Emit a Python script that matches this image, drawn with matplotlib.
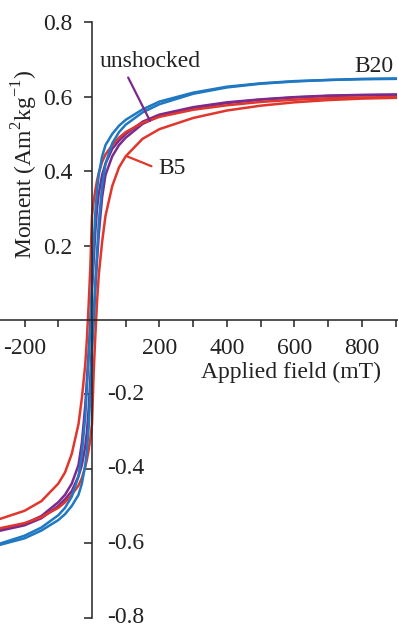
import matplotlib
matplotlib.use("Agg")
import matplotlib.pyplot as plt

plt.rcParams['font.family'] = ['Liberation Serif', 'DejaVu Serif']
plt.rcParams['mathtext.fontset'] = 'custom'
plt.rcParams['mathtext.rm'] = 'Liberation Serif'
plt.rcParams['font.size'] = 17

# applied field (mT)
field = [-300, -200, -150, -100, -80, -60, -40, -30, -20, -15, -10, -5, 0, 5, 10, 15, 20,
         30, 40, 60, 80, 100, 150, 200, 300, 400, 500, 600, 700, 800, 900]

# moment (Am2/kg) - descending and ascending branch of each loop
b20_down = [-0.609, -0.58, -0.558, -0.525, -0.505, -0.475, -0.42, -0.36, -0.26, -0.18, -0.10, -0.02,
            0.10, 0.20, 0.29, 0.35, 0.39, 0.44, 0.47, 0.50, 0.522, 0.538, 0.566, 0.587,
            0.611, 0.627, 0.636, 0.642, 0.645, 0.648, 0.649]
b20_up = [-0.611, -0.587, -0.566, -0.538, -0.522, -0.50, -0.47, -0.44, -0.39, -0.35, -0.29, -0.20,
          -0.08, 0.0, 0.10, 0.18, 0.26, 0.36, 0.42, 0.475, 0.505, 0.525, 0.558, 0.58,
          0.608, 0.625, 0.635, 0.641, 0.645, 0.647, 0.648]

unsh_down = [-0.57, -0.548, -0.527, -0.49, -0.47, -0.44, -0.39, -0.33, -0.23, -0.16, -0.09, -0.01,
             0.08, 0.16, 0.24, 0.30, 0.34, 0.39, 0.42, 0.46, 0.482, 0.50, 0.533, 0.552,
             0.572, 0.585, 0.593, 0.599, 0.603, 0.605, 0.606]
unsh_up = [-0.572, -0.552, -0.533, -0.50, -0.482, -0.46, -0.42, -0.39, -0.34, -0.30, -0.24, -0.16,
           -0.06, 0.0, 0.09, 0.16, 0.23, 0.33, 0.39, 0.44, 0.47, 0.49, 0.527, 0.548,
           0.57, 0.583, 0.592, 0.598, 0.602, 0.604, 0.605]

b5_down = [-0.543, -0.513, -0.487, -0.44, -0.41, -0.36, -0.28, -0.21, -0.12, -0.05, 0.04, 0.14,
           0.28, 0.32, 0.35, 0.375, 0.395, 0.425, 0.445, 0.47, 0.49, 0.505, 0.53, 0.546,
           0.565, 0.577, 0.586, 0.592, 0.596, 0.598, 0.599]
b5_up = [-0.565, -0.546, -0.53, -0.505, -0.49, -0.47, -0.445, -0.425, -0.395, -0.375, -0.35, -0.32,
         -0.28, -0.14, -0.04, 0.05, 0.12, 0.21, 0.28, 0.36, 0.41, 0.44, 0.487, 0.513,
         0.543, 0.563, 0.576, 0.585, 0.591, 0.595, 0.597]

xticks = [-200, -100, 100, 200, 300, 400, 500, 600, 700, 800, 900]
xticklabels = ['-200', '', '', '200', '', '400', '', '600', '', '800', '']
yticks = [-0.8, -0.6, -0.4, -0.2, 0.2, 0.4, 0.6, 0.8]

c_blue = '#1f78c1'
c_purple = '#7a2b8c'
c_red = '#e1362c'

fig = plt.figure(figsize=(3.98, 6.28), dpi=100)
ax = fig.add_axes([0, 0, 1, 1])

lw = 1.8
ax.plot(field, unsh_down, color=c_purple, lw=lw)
ax.plot(field, unsh_up, color=c_purple, lw=lw)
ax.plot(field, b5_down, color=c_red, lw=lw)
ax.plot(field, b5_up, color=c_red, lw=lw)
ax.plot(field, b20_down, color=c_blue, lw=lw)
ax.plot(field, b20_up, color=c_blue, lw=lw)

ax.set_xlim(-272.6, 906.7)
ax.set_ylim(-0.828, 0.860)

for s in ['top', 'right']:
    ax.spines[s].set_visible(False)
ax.spines['left'].set_position(('data', 0))
ax.spines['bottom'].set_position(('data', 0))
ax.spines['left'].set_bounds(-0.8, 0.8)
for s in ['left', 'bottom']:
    ax.spines[s].set_linewidth(1.1)
    ax.spines[s].set_color('#222222')

ax.set_xticks(xticks, labels=xticklabels)
ax.set_yticks(yticks, labels=[f'{v:.1f}' if v > 0 else '' for v in yticks])
ax.tick_params(axis='x', direction='out', length=5, width=1.1, pad=8, colors='#222222')
ax.tick_params(axis='y', direction='out', length=6, width=1.1, pad=8, colors='#222222')

# negative moment labels sit on the right of the axis
for v in yticks:
    if v < 0:
        ax.text(44, v, f'{v:.1f}', ha='left', va='center', color='#222222')

fig.text(25 / 398, 1 - 164 / 628, 'Moment (Am$^2$kg$^{-1}$)', rotation=90,
         ha='center', va='center', color='#222222')
fig.text(381 / 398, 1 - 372 / 628, 'Applied field (mT)', ha='right', va='center',
         color='#222222')

ax.annotate('unshocked', xy=(172, 0.535), xytext=(171, 0.694), ha='center', va='center',
            color='#222222',
            arrowprops=dict(arrowstyle='-', color=c_purple, lw=1.6, relpos=(0.25, 0.1),
                            shrinkA=2, shrinkB=0))
ax.annotate('B5', xy=(103, 0.44), xytext=(196, 0.406), ha='left', va='center',
            color='#222222',
            arrowprops=dict(arrowstyle='-', color=c_red, lw=1.6, relpos=(0, 0.5),
                            shrinkA=3, shrinkB=0))
ax.text(892, 0.68, 'B20', ha='right', va='center', color='#222222')

fig.savefig('out.png', dpi=100)
